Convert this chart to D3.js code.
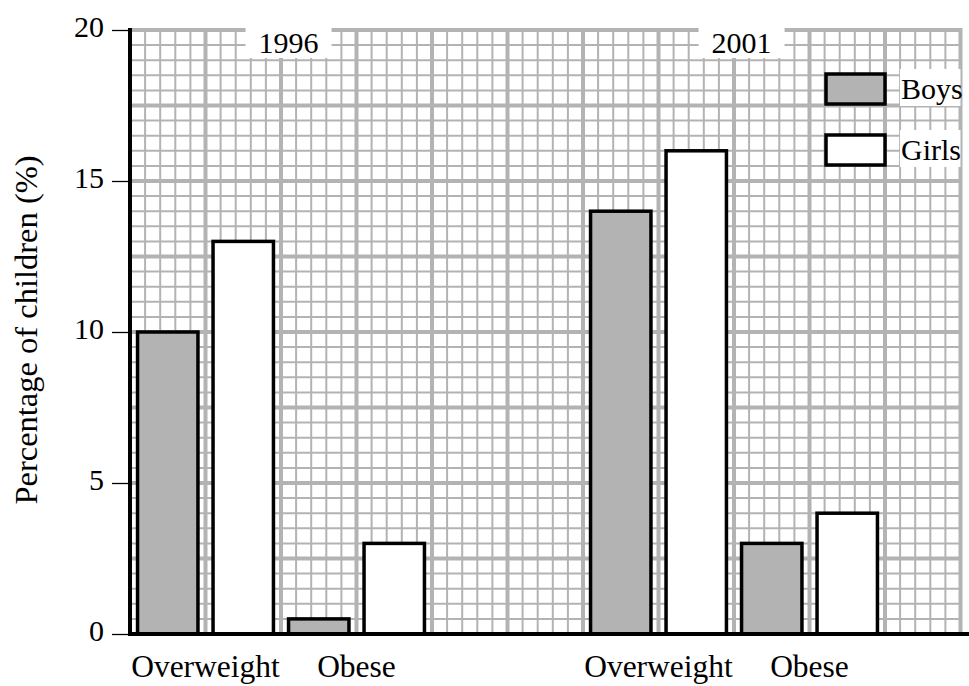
<!DOCTYPE html>
<html>
<head>
<meta charset="utf-8">
<script src="https://cdn.jsdelivr.net/npm/d3@7"></script>
<style>
  body { margin: 0; background: #fff; }
  svg text { font-family: "Liberation Serif", "Times New Roman", Times, serif !important; }
</style>
</head>
<body>
<div id="chart"></div>
<script>
// Data.
const years = ["1996", "2001"];
const measures = ["Overweight", "Obese"];
const sexes = ["Boys", "Girls"];
const boys1996 = [10, 0.5];
const girls1996 = [13, 3];
const boys2001 = [14, 3];
const girls2001 = [16, 4];
const yTicks = [0, 5, 10, 15, 20];

const rows = [];
[[boys1996, girls1996], [boys2001, girls2001]].forEach((pair, yi) => {
  measures.forEach((m, mi) => {
    rows.push({ key: years[yi] + "-" + m, year: years[yi], measure: m, Boys: pair[0][mi], Girls: pair[1][mi] });
  });
});

const fontName = "Times New Roman";
const width = 969, height = 686;
const svg = d3.select("#chart").append("svg")
  .attr("width", width)
  .attr("height", height);

// y scale: 0..20 mapped to the plot area.
const y = d3.scaleLinear().domain([0, 20]).range([634, 30]);
const cellPx = y(0) - y(0.5);

// grid cells across the plot (55 half-unit cells).
const xCell = d3.scaleLinear().domain([0, 55]).range([130, 130 + 55 * cellPx]);

// category bands: two measures per year, with a blank band between years.
const bandDomain = [rows[0].key, rows[1].key, "gap", rows[2].key, rows[3].key];
const x = d3.scaleBand().domain(bandDomain).range([xCell(0), xCell(50)]).padding(0);
const xSub = d3.scaleBand().domain(sexes).range([0, x.bandwidth()])
  .paddingInner(0.2).paddingOuter(0.1);

const color = d3.scaleOrdinal().domain(sexes).range(["#b3b3b3", "#ffffff"]);
const gridColor = "#b3b3b3";

// Grid lines.
const grid = svg.append("g");
grid.selectAll("line.h")
  .data(d3.range(0, 41))
  .enter().append("line")
  .attr("x1", xCell(0)).attr("x2", xCell(55))
  .attr("y1", d => y(d / 2)).attr("y2", d => y(d / 2))
  .attr("stroke", gridColor)
  .attr("stroke-width", d => d % 5 === 0 ? 4 : 2);
grid.selectAll("line.v")
  .data(d3.range(0, 56))
  .enter().append("line")
  .attr("y1", y(0)).attr("y2", y(20) - 2)
  .attr("x1", d => xCell(d)).attr("x2", d => xCell(d))
  .attr("stroke", gridColor)
  .attr("stroke-width", d => d % 5 === 0 ? 4 : 2);

// Year labels on white boxes.
years.forEach(yr => {
  const cx = x(yr + "-Obese") + cellPx * 0.5;
  svg.append("rect")
    .attr("x", cx - 43).attr("y", 27)
    .attr("width", 86).attr("height", 31)
    .attr("fill", "#fff");
  svg.append("text")
    .attr("x", cx).attr("y", 53)
    .attr("text-anchor", "middle")
    .attr("font-family", fontName)
    .attr("font-size", 30)
    .text(yr);
});

// Bars.
const groups = svg.selectAll("g.cat")
  .data(rows)
  .enter().append("g")
  .attr("class", "cat")
  .attr("transform", d => `translate(${x(d.key)},0)`);

groups.selectAll("rect")
  .data(d => sexes.map(s => ({ sex: s, value: d[s] })))
  .enter().append("rect")
  .attr("x", d => xSub(d.sex))
  .attr("y", d => y(d.value))
  .attr("width", xSub.bandwidth())
  .attr("height", d => y(0) - y(d.value))
  .attr("fill", d => color(d.sex))
  .attr("stroke", "#000")
  .attr("stroke-width", 3.5);

// Category labels.
svg.selectAll("text.cat")
  .data(rows)
  .enter().append("text")
  .attr("class", "cat")
  .attr("x", d => x(d.key) + x.bandwidth() / 2)
  .attr("y", 677)
  .attr("text-anchor", "middle")
  .attr("font-family", fontName)
  .attr("font-size", 31.5)
  .text(d => d.measure);

// Axes.
const yAxis = svg.append("g")
  .attr("transform", `translate(${xCell(0) - 2},0)`)
  .call(d3.axisLeft(y).tickValues(yTicks).tickSize(16).tickPadding(8))
  .attr("font-family", fontName)
  .attr("font-size", 30);
yAxis.select(".domain").remove();
yAxis.selectAll(".tick line").attr("stroke", "#000").attr("stroke-width", 1.3);
yAxis.selectAll(".tick text")
  .attr("dy", "0.2em")
  .attr("fill", "#000");

svg.append("line")
  .attr("x1", xCell(0)).attr("x2", xCell(0))
  .attr("y1", y(20) - 2).attr("y2", y(0) + 2)
  .attr("stroke", "#000").attr("stroke-width", 4);
svg.append("line")
  .attr("x1", xCell(0)).attr("x2", width)
  .attr("y1", y(0)).attr("y2", y(0))
  .attr("stroke", "#000").attr("stroke-width", 4);

// Axis title.
svg.append("text")
  .attr("transform", `translate(37,${(y(0) + y(20)) / 2 - 2}) rotate(-90)`)
  .attr("text-anchor", "middle")
  .attr("font-family", fontName)
  .attr("font-size", 32.5)
  .text("Percentage of children (%)");

// Legend.
const legend = svg.append("g");
sexes.forEach((s, i) => {
  const ly = 74 + i * 61;
  legend.append("rect")
    .attr("x", 900).attr("y", ly - 5)
    .attr("width", xCell(55) - 900).attr("height", 37)
    .attr("fill", "#fff");
  legend.append("rect")
    .attr("x", 826).attr("y", ly)
    .attr("width", 59).attr("height", 30)
    .attr("fill", color(s))
    .attr("stroke", "#000").attr("stroke-width", 3.5);
  legend.append("text")
    .attr("x", 901).attr("y", ly + 25)
    .attr("font-family", fontName)
    .attr("font-size", 30)
    .text(s);
});
</script>
</body>
</html>
